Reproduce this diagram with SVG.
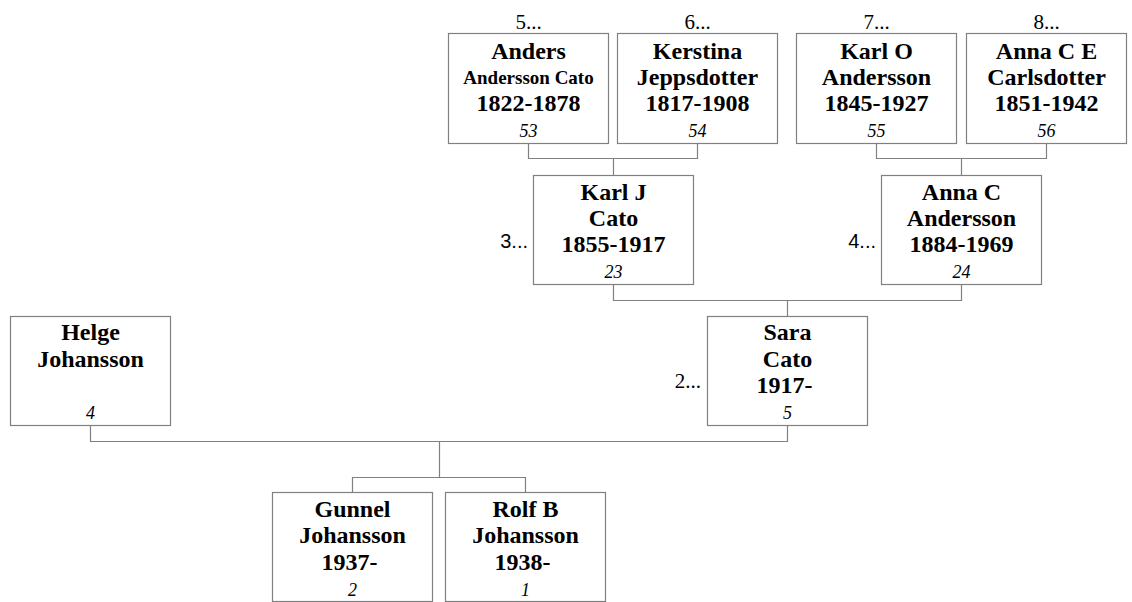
<svg xmlns="http://www.w3.org/2000/svg" width="1132" height="602" viewBox="0 0 1132 602">
<style>
.box{fill:#fff;stroke:#808080;stroke-width:1.2}
.ln{fill:none;stroke:#808080;stroke-width:1.2}
.nm{font-family:"Liberation Serif","Times New Roman",serif;font-weight:bold;font-size:24px;text-anchor:middle;fill:#000}
.sm{font-family:"Liberation Serif","Times New Roman",serif;font-weight:bold;font-size:19px;text-anchor:middle;fill:#000}
.no{font-family:"Liberation Serif","Times New Roman",serif;font-style:italic;font-size:18px;text-anchor:middle;fill:#000}
.lbt{font-family:"Liberation Serif","Times New Roman",serif;font-size:21px;text-anchor:middle;fill:#000}
.lbs{font-family:"Liberation Sans",Arial,sans-serif;font-size:20px;text-anchor:end;fill:#000}
.lbr{font-family:"Liberation Serif","Times New Roman",serif;font-size:21px;text-anchor:end;fill:#000}
</style>
<rect width="1132" height="602" fill="#fff"/>
<g id="connectors">
<path class="ln" d="M528.5 143.5V158.5H697.5V143.5M613.5 158.5V175.5"/>
<path class="ln" d="M876.5 143.5V158.5H1046.5V143.5M961.5 158.5V175.5"/>
<path class="ln" d="M613.5 284.5V300.5H961.5V284.5M787.5 300.5V316.5"/>
<path class="ln" d="M90.5 425.5V441.5H787.5V425.5M439.5 441.5V477.5"/>
<path class="ln" d="M352.5 492.5V477.5H525.5V492.5"/>
</g>
<g id="n53">
<text class="lbt" x="528.5" y="28.5">5...</text>
<rect class="box" x="448.5" y="33.5" width="160" height="110"/>
<text class="nm" x="528.5" y="58.5">Anders</text>
<text class="sm" x="528.5" y="84">Andersson Cato</text>
<text class="nm" x="528.5" y="111">1822-1878</text>
<text class="no" x="528.5" y="136.5">53</text>
</g>
<g id="n54">
<text class="lbt" x="697.5" y="28.5">6...</text>
<rect class="box" x="617.5" y="33.5" width="160" height="110"/>
<text class="nm" x="697.5" y="58.5">Kerstina</text>
<text class="nm" x="697.5" y="84.5">Jeppsdotter</text>
<text class="nm" x="697.5" y="111">1817-1908</text>
<text class="no" x="697.5" y="136.5">54</text>
</g>
<g id="n55">
<text class="lbt" x="876.5" y="28.5">7...</text>
<rect class="box" x="796.5" y="33.5" width="160" height="110"/>
<text class="nm" x="876.5" y="58.5">Karl O</text>
<text class="nm" x="876.5" y="84.5">Andersson</text>
<text class="nm" x="876.5" y="111">1845-1927</text>
<text class="no" x="876.5" y="136.5">55</text>
</g>
<g id="n56">
<text class="lbt" x="1046.5" y="28.5">8...</text>
<rect class="box" x="966.5" y="33.5" width="160" height="110"/>
<text class="nm" x="1046.5" y="58.5">Anna C E</text>
<text class="nm" x="1046.5" y="84.5">Carlsdotter</text>
<text class="nm" x="1046.5" y="111">1851-1942</text>
<text class="no" x="1046.5" y="136.5">56</text>
</g>
<g id="n23">
<text class="lbs" x="528" y="247.5">3...</text>
<rect class="box" x="533.5" y="175.5" width="160" height="109"/>
<text class="nm" x="613.5" y="199.5">Karl J</text>
<text class="nm" x="613.5" y="225.5">Cato</text>
<text class="nm" x="613.5" y="251.5">1855-1917</text>
<text class="no" x="613.5" y="278">23</text>
</g>
<g id="n24">
<text class="lbs" x="876" y="247.5">4...</text>
<rect class="box" x="881.5" y="175.5" width="160" height="109"/>
<text class="nm" x="961.5" y="199.5">Anna C</text>
<text class="nm" x="961.5" y="225.5">Andersson</text>
<text class="nm" x="961.5" y="251.5">1884-1969</text>
<text class="no" x="961.5" y="278">24</text>
</g>
<g id="n4">
<rect class="box" x="10.5" y="316.5" width="160" height="109"/>
<text class="nm" x="90.5" y="340">Helge</text>
<text class="nm" x="90.5" y="366.5">Johansson</text>
<text class="no" x="90.5" y="419">4</text>
</g>
<g id="n5">
<text class="lbr" x="701" y="387.5">2...</text>
<rect class="box" x="707.5" y="316.5" width="160" height="109"/>
<text class="nm" x="787.5" y="340">Sara</text>
<text class="nm" x="787.5" y="366.5">Cato</text>
<text class="nm" x="784.5" y="393">1917-</text>
<text class="no" x="787.5" y="419">5</text>
</g>
<g id="n2">
<rect class="box" x="272.5" y="492.5" width="160" height="109"/>
<text class="nm" x="352.5" y="516.5">Gunnel</text>
<text class="nm" x="352.5" y="543">Johansson</text>
<text class="nm" x="349.5" y="569.5">1937-</text>
<text class="no" x="352.5" y="595.5">2</text>
</g>
<g id="n1">
<rect class="box" x="445.5" y="492.5" width="160" height="109"/>
<text class="nm" x="525.5" y="516.5">Rolf B</text>
<text class="nm" x="525.5" y="543">Johansson</text>
<text class="nm" x="522.5" y="569.5">1938-</text>
<text class="no" x="525.5" y="595.5">1</text>
</g>
</svg>
